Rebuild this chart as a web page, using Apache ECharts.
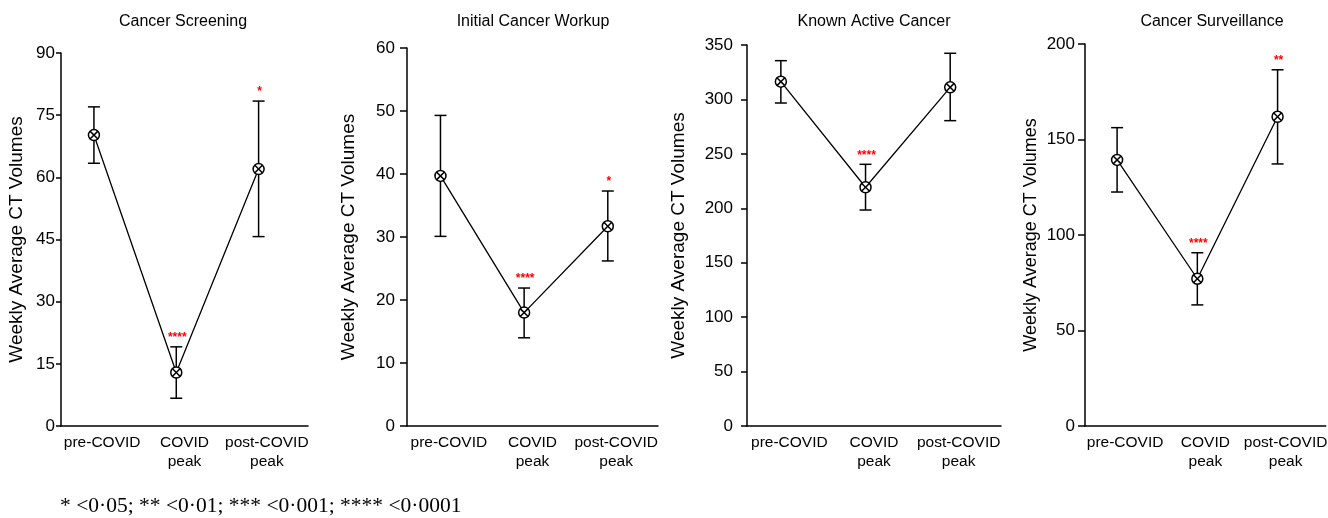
<!DOCTYPE html>
<html>
<head>
<meta charset="utf-8">
<script src="https://cdn.jsdelivr.net/npm/echarts@6/dist/echarts.min.js"></script>
<style>
html,body{margin:0;padding:0;background:#fff;}
#chart{width:1328px;height:518px;}
</style>
</head>
<body>
<div id="chart"></div>
<script>
// ---- data ----
const categories = ['pre-COVID', 'COVID\npeak', 'post-COVID\npeak'];
const panelTitles = ['Cancer Screening', 'Initial Cancer Workup', 'Known Active Cancer', 'Cancer Surveillance'];
const yAxisName = 'Weekly Average CT Volumes';

const screeningMean = [70.2, 12.9, 62.0];
const screeningLow  = [63.4, 6.7, 45.7];
const screeningHigh = [77.0, 19.1, 78.4];
const screeningStars = ['', '****', '*'];

const workupMean = [39.7, 18.0, 31.7];
const workupLow  = [30.1, 14.0, 26.2];
const workupHigh = [49.3, 21.9, 37.3];
const workupStars = ['', '****', '*'];

const activeMean = [316.3, 219.3, 311.1];
const activeLow  = [296.7, 198.4, 280.5];
const activeHigh = [335.6, 240.4, 342.4];
const activeStars = ['', '****', ''];

const surveillanceMean = [139.3, 77.1, 161.9];
const surveillanceLow  = [122.5, 63.4, 137.2];
const surveillanceHigh = [156.2, 90.7, 186.5];
const surveillanceStars = ['', '****', '**'];

const yMaxes = [90, 60, 350, 200];
const yIntervals = [15, 10, 50, 50];

const footnote = '* <0\u00B705; ** <0\u00B701; *** <0\u00B7001; **** <0\u00B70001';

// ---- layout ----
const panels = [
  {mean: screeningMean, low: screeningLow, high: screeningHigh, stars: screeningStars},
  {mean: workupMean, low: workupLow, high: workupHigh, stars: workupStars},
  {mean: activeMean, low: activeLow, high: activeHigh, stars: activeStars},
  {mean: surveillanceMean, low: surveillanceLow, high: surveillanceHigh, stars: surveillanceStars}
];
const grids = [
  {left: 61, top: 53, width: 247, height: 373},
  {left: 407, top: 48, width: 251, height: 378},
  {left: 747, top: 45, width: 254, height: 381},
  {left: 1085, top: 44, width: 255, height: 382}
];
const nameGaps = [35, 49, 59, 45];
const nameSizes = [19, 19, 19, 18];
const tickLens = [5, 7, 6, 7];
const labelMargins = [6, 12, 14, 10];
const titleX = [183, 533, 874, 1212];

const FONT = '"Liberation Sans", Arial, sans-serif';

const option = {
  backgroundColor: '#fff',
  animation: false,
  grid: grids.map(g => Object.assign({containLabel: false}, g)),
  xAxis: [],
  yAxis: [],
  series: [],
  graphic: []
};

panels.forEach((p, i) => {
  // label axis (category)
  option.xAxis.push({
    type: 'category', gridIndex: i, data: categories, boundaryGap: true,
    axisLine: {onZero: false, lineStyle: {color: '#000', width: 1.5}},
    axisTick: {show: false},
    axisLabel: {color: '#000', fontSize: 15.5, fontFamily: FONT, margin: 7, lineHeight: 19, interval: 0}
  });
  // positioning axis (value, hidden)
  option.xAxis.push({
    type: 'value', gridIndex: i, min: -0.4, max: 2.6, show: false
  });
  option.yAxis.push({
    type: 'value', gridIndex: i, min: 0, max: yMaxes[i], interval: yIntervals[i],
    name: yAxisName, nameLocation: 'middle', nameGap: nameGaps[i], nameRotate: 90,
    nameTextStyle: {color: '#000', fontSize: nameSizes[i], fontFamily: FONT},
    axisLine: {show: true, onZero: false, lineStyle: {color: '#000', width: 1.5}},
    axisTick: {show: true, inside: false, length: tickLens[i], lineStyle: {color: '#000', width: 1.5}},
    axisLabel: {color: '#000', fontSize: 17, fontFamily: FONT, margin: labelMargins[i]},
    splitLine: {show: false}
  });
  const pts = p.mean.map((m, k) => [k, m]);
  option.series.push({
    type: 'line', xAxisIndex: i * 2 + 1, yAxisIndex: i,
    data: pts, symbol: 'none', lineStyle: {color: '#000', width: 1.3}, z: 2
  });
  option.series.push({
    type: 'custom', xAxisIndex: i * 2 + 1, yAxisIndex: i, z: 5,
    data: p.mean.map((m, k) => [k, m, p.low[k], p.high[k]]),
    renderItem: function (params, api) {
      const x = api.value(0);
      const pm = api.coord([x, api.value(1)]);
      const pl = api.coord([x, api.value(2)]);
      const ph = api.coord([x, api.value(3)]);
      const cap = 6, r = 5.5, d = r * 0.72;
      const st = {stroke: '#000', lineWidth: 1.5, fill: null};
      const kids = [
        {type: 'line', shape: {x1: pl[0], y1: pl[1], x2: ph[0], y2: ph[1]}, style: st},
        {type: 'line', shape: {x1: pl[0] - cap, y1: pl[1], x2: pl[0] + cap, y2: pl[1]}, style: st},
        {type: 'line', shape: {x1: ph[0] - cap, y1: ph[1], x2: ph[0] + cap, y2: ph[1]}, style: st},
        {type: 'circle', shape: {cx: pm[0], cy: pm[1], r: r}, style: {fill: '#fff', stroke: '#000', lineWidth: 1.5}},
        {type: 'line', shape: {x1: pm[0] - d, y1: pm[1] - d, x2: pm[0] + d, y2: pm[1] + d}, style: st},
        {type: 'line', shape: {x1: pm[0] - d, y1: pm[1] + d, x2: pm[0] + d, y2: pm[1] - d}, style: st}
      ];
      const s = p.stars[params.dataIndex];
      if (s) {
        kids.push({type: 'text', style: {text: s, x: ph[0] + 1, y: ph[1] - 9, fill: '#ff0000',
          font: 'bold 12px ' + FONT, align: 'center', verticalAlign: 'middle'}});
      }
      return {type: 'group', children: kids};
    }
  });
  option.graphic.push({
    type: 'text', x: titleX[i], y: 22,
    style: {text: panelTitles[i], fill: '#000', font: '16px ' + FONT, align: 'center', verticalAlign: 'middle'}
  });
});

option.graphic.push({
  type: 'text', x: 60, y: 506,
  style: {text: footnote, fill: '#000', font: '21.5px "Liberation Serif", "Times New Roman", serif', align: 'left', verticalAlign: 'middle'}
});

const chart = echarts.init(document.getElementById('chart'), null, {renderer: 'canvas'});
chart.setOption(option);
</script>
</body>
</html>
